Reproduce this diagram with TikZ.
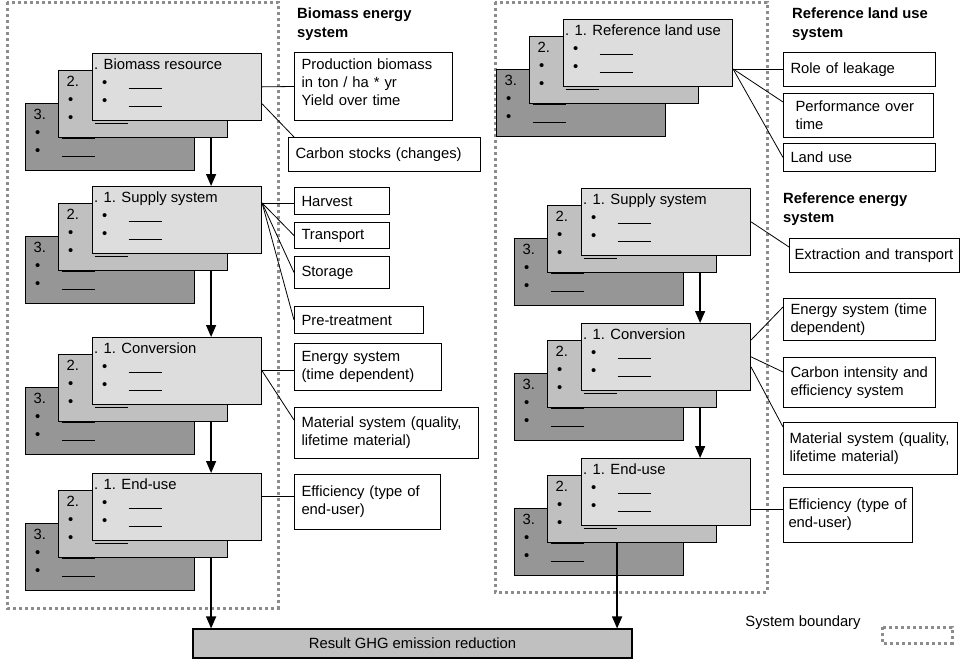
\documentclass[tikz,border=0pt]{standalone}
\usepackage{fontspec}
\setmainfont{Liberation Sans}
\usetikzlibrary{arrows.meta}

\definecolor{frontgray}{HTML}{DDDDDD}
\definecolor{midgray}{HTML}{C0C0C0}
\definecolor{backgray}{HTML}{969696}
\definecolor{edgegray}{HTML}{8C8C8C}

\newcommand{\cardrow}{\hspace*{1.5pt}\textbullet\hspace{21.3pt}\rule[-1.2pt]{33pt}{0.8pt}}
\newcommand{\cardtext}[1]{\parbox[t][56pt][t]{153pt}{\rule{0pt}{11pt}#1\\\cardrow\\\cardrow}}
% three stacked cards: name, x, y of the front card, title
\newcommand{\cardstack}[4]{%
    \node[cardthree] (#13) at (#2-67,#3+50) {\cardtext{3.}};
    \node[cardtwo]   (#12) at (#2-34,#3+17) {\cardtext{2.}};
    \node[cardone]   (#11) at (#2,#3)       {\cardtext{\hspace*{-6.5pt}#4}};
}

\tikzset{
    card/.style={rectangle, draw=black, line width=1.1pt, inner xsep=8pt, inner ysep=5.3pt, anchor=north west},
    cardone/.style={card, fill=frontgray},
    cardtwo/.style={card, fill=midgray},
    cardthree/.style={card, fill=backgray},
    infobox/.style={draw=black, fill=white, line width=1pt, anchor=north west, align=left, inner xsep=7pt, inner ysep=0pt},
    heading/.style={anchor=north west, align=left, inner sep=0pt, font=\bfseries\fontsize{14.8}{19}\selectfont},
    resultbox/.style={draw=black, fill=midgray, line width=1.1pt, minimum width=439pt, minimum height=29pt},
    flow/.style={line width=1.3pt, -{Triangle[length=12pt,width=10pt]}},
    link/.style={line width=0.8pt},
    boundary/.style={draw=edgegray, line width=3pt, dash pattern=on 3pt off 3pt}
}

\begin{document}
\begin{tikzpicture}[x=1pt, y=-1pt, font=\fontsize{14.8}{18}\selectfont]
    \useasboundingbox (0,0) rectangle (968,662);

    \draw[boundary] (7,2) rectangle (278,608);
    \draw[boundary] (495,2) rectangle (767,592);

    % biomass chain
    \cardstack{bio}{92}{53}{. Biomass resource}
    \cardstack{sup}{92}{186}{. 1. Supply system}
    \cardstack{conv}{92}{337}{. 1. Conversion}
    \cardstack{end}{92}{473}{. 1. End-use}

    % reference chain
    \cardstack{rland}{563}{19}{. 1. Reference land use}
    \cardstack{rsup}{581}{188}{. 1. Supply system}
    \cardstack{rconv}{581}{323}{. 1. Conversion}
    \cardstack{rend}{581}{458}{. 1. End-use}

    \node[heading] (bioHead) at (297,7.5) {Biomass energy\\system};
    \node[heading] (landHead) at (792,7.5) {Reference land use\\system};
    \node[heading] (energyHead) at (783,192.5) {Reference energy\\system};

    \node[infobox, text width=144pt, minimum height=68pt] (prod) at (294,52) {Production biomass\\in ton / ha * yr\\Yield over time\rule[-8pt]{0pt}{8pt}};
    \node[infobox, text width=178pt, minimum height=34pt] (carb) at (288,137) {Carbon stocks (changes)};
    \node[infobox, text width=81pt, minimum height=27pt] (harv) at (294,187) {Harvest};
    \node[infobox, text width=81pt, minimum height=26pt] (trans) at (294,222) {Transport};
    \node[infobox, text width=81pt, minimum height=32pt] (stor) at (294,256) {Storage};
    \node[infobox, text width=115pt, minimum height=27pt] (pretr) at (294,306) {Pre-treatment};
    \node[infobox, text width=133pt, minimum height=47pt] (enL) at (294,343) {Energy system\\(time dependent)};
    \node[infobox, text width=170pt, minimum height=51pt] (matL) at (294,407) {Material system (quality,\\lifetime material)};
    \node[infobox, text width=132pt, minimum height=55pt] (effL) at (294,474) {Efficiency (type of\\end-user)};

    \node[infobox, text width=138pt, minimum height=34pt] (leak) at (783,52) {Role of leakage};
    \node[infobox, inner xsep=12pt, text width=126pt, minimum height=44pt] (perf) at (783,93) {Performance over\\time};
    \node[infobox, text width=138pt, minimum height=28pt] (luse) at (783,143) {Land use};
    \node[infobox, inner xsep=5pt, text width=160pt, minimum height=34pt] (extr) at (789,238) {Extraction and transport};
    \node[infobox, text width=138pt, minimum height=42pt] (enR) at (783,298) {Energy system (time\\dependent)};
    \node[infobox, text width=138pt, minimum height=50pt] (ciR) at (783,357) {Carbon intensity and\\efficiency system};
    \node[infobox, inner xsep=6pt, text width=162pt, minimum height=52pt] (matR) at (783,422) {Material system (quality,\\lifetime material)};
    \node[infobox, inner xsep=5pt, text width=119pt, minimum height=55pt] (effR) at (783,487) {Efficiency (type of\\end-user)};

    \node[resultbox] (result) at (412.5,643.5) {Result GHG emission reduction};

    \node (legend) at (803,623) {System boundary};
    \draw[boundary] (882,627) rectangle (952,643);

    % side links
    \coordinate (supHub) at ([yshift=-17pt]sup1.north east);
    \coordinate (endHub) at ([yshift=-23pt]end1.north east);
    \coordinate (landHub) at ([yshift=-50pt]rland1.north east);
    \coordinate (rendHub) at ([yshift=-51pt]rend1.north east);

    \draw[link] (bio1.east) -- (prod.west);
    \draw[link] ([yshift=-17pt]bio1.east) -- ([xshift=6pt]carb.north west);
    \draw[link] (supHub) -- (supHub -| harv.west);
    \draw[link] (supHub) -- (trans.west);
    \draw[link] (supHub) -- (stor.west);
    \draw[link] (supHub) -- (pretr.west);
    \draw[link] (conv1.east) -- (conv1.east -| enL.west);
    \draw[link] (conv1.east) -- ([yshift=-13pt]matL.north west);
    \draw[link] (endHub) -- (endHub -| effL.west);

    \draw[link] (landHub) -- (landHub -| leak.west);
    \draw[link] (landHub) -- ([yshift=-9pt]perf.north west);
    \draw[link] (landHub) -- (luse.west);
    \draw[link] (rsup1.east) -- ([yshift=-9pt]extr.north west);
    \draw[link] ([yshift=-17pt]rconv1.north east) -- ([yshift=-9pt]enR.north west);
    \draw[link] (rconv1.east) -- ([yshift=-15pt]ciR.north west);
    \draw[link] ([yshift=-44pt]rconv1.north east) -- ([yshift=-5pt]matR.north west);
    \draw[link] (rendHub) -- (rendHub -| effR.west);

    % chain arrows
    \draw[flow] ([xshift=-17pt]bio2.south east) -- ([xshift=-51pt]sup1.north east);
    \draw[flow] ([xshift=-17pt]sup2.south east) -- ([xshift=-51pt]conv1.north east);
    \draw[flow] ([xshift=-17pt]conv2.south east) -- ([xshift=-51pt]end1.north east);
    \draw[flow] ([xshift=-17pt]rsup2.south east) -- ([xshift=-51pt]rconv1.north east);
    \draw[flow] ([xshift=-17pt]rconv2.south east) -- ([xshift=-51pt]rend1.north east);

    \coordinate (bioOut) at ([xshift=-17pt]end2.south east);
    \coordinate (refOut) at ([xshift=-100pt]rend2.south east);
    \draw[flow] (bioOut) -- (bioOut |- result.north);
    \draw[flow] (refOut) -- (refOut |- result.north);
\end{tikzpicture}
\end{document}
